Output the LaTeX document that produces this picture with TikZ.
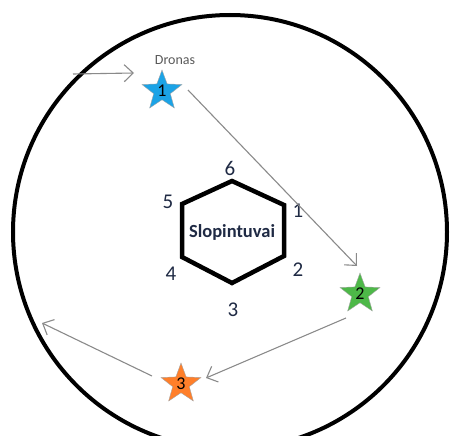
\documentclass[tikz,border=0pt]{standalone}
\usepackage{fontspec}
\setmainfont{Carlito}
\usetikzlibrary{shapes.geometric,arrows.meta}
\definecolor{sblue}{HTML}{1BA3E6}
\definecolor{sgreen}{HTML}{4DB848}
\definecolor{sorange}{HTML}{FF7F2A}
\definecolor{arrgray}{HTML}{8A8A8A}
\definecolor{navy}{HTML}{1F2A44}
\tikzset{
  dronestar/.style={star, star points=5, star point ratio=2.4, minimum size=42pt, inner sep=0pt, draw=gray!70, line width=0.4pt, font=\fontsize{18}{18}\selectfont, text=black},
  flight/.style={draw=arrgray, line width=1.1pt, -{Straight Barb[length=9pt,width=17pt,line width=1.1pt]}},
  numlbl/.style={font=\fontsize{21}{21}\selectfont, text=navy},
}
\begin{document}
\begin{tikzpicture}[x=1pt,y=-1pt]
\useasboundingbox (0,0) rectangle (450,436);
\begin{scope}
\clip (0,0) rectangle (450,436);
\draw[line width=4pt] (230,232) circle (217);
\end{scope}
% hexagon
\draw[line width=4.5pt, line join=miter] (232,181) -- (284,205) -- (284,256) -- (232,283) -- (182,257) -- (182,204) -- cycle;
\node[font=\bfseries\fontsize{18.5}{18.5}\selectfont, text=navy, inner sep=0pt] (hex) at (232,232) {Slopintuvai};
\node[numlbl] (n6) at (230,168) {6};
\node[numlbl] (n5) at (168,202) {5};
\node[numlbl] (n1) at (298,211) {1};
\node[numlbl] (n2) at (298,270) {2};
\node[numlbl] (n4) at (171,274) {4};
\node[numlbl] (n3) at (233,310) {3};
% drones
\node[dronestar, fill=sblue] (s1) at (162,91) {1};
\node[dronestar, fill=sgreen] (s2) at (360,294) {2};
\node[dronestar, fill=sorange] (s3) at (181,384) {3};
\node[font=\fontsize{14}{14}\selectfont, text=gray!70!black] (dr) at (175,60) {Dronas};
% path coordinates
\coordinate (e0) at (73,74);
\coordinate (e0b) at (134,73);
\coordinate (a1) at (188,90);
\coordinate (b1) at (357,266);
\coordinate (a2) at (346,318);
\coordinate (b2) at (206,378);
\coordinate (a3) at (152,376);
\coordinate (b3) at (42,323);
\draw[flight] (e0) -- (e0b);
\draw[flight] (a1) -- (b1);
\draw[flight] (a2) -- (b2);
\draw[flight] (a3) -- (b3);
\end{tikzpicture}
\end{document}
